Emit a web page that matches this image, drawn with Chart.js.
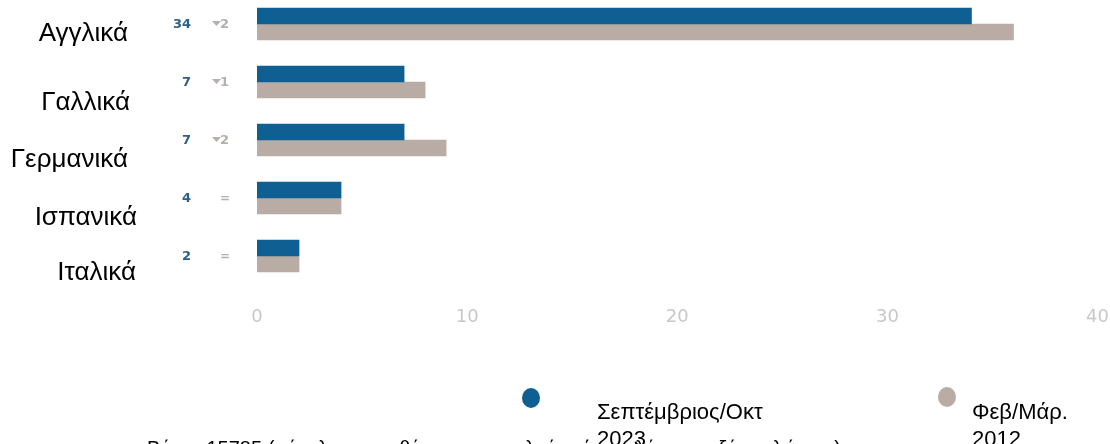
<!DOCTYPE html>
<html>
<head>
<meta charset="utf-8">
<script src="https://cdn.jsdelivr.net/npm/chart.js@4.4.0/dist/chart.umd.min.js"></script>
<style>
  html, body { margin: 0; padding: 0; background: #ffffff; overflow: hidden; }
  #wrap { position: absolute; left: 0; top: -5px; width: 1131px; height: 449px; }
</style>
</head>
<body>
<div id="wrap"><canvas id="chart"></canvas></div>
<script>
// Languages spoken, two survey waves
const categories = ['Αγγλικά', 'Γαλλικά', 'Γερμανικά', 'Ισπανικά', 'Ιταλικά'];
const series2023 = [34, 7, 7, 4, 2];
const series2012 = [36, 8, 9, 4, 2];
const seriesLabels = [['Σεπτέμβριος/Οκτ', '2023'], ['Φεβ/Μάρ.', '2012']];
const xTicks = [0, 10, 20, 30, 40];
const baseNote = 'Βάση: 15785 (σύνολο ερωτηθέντων που μιλούν μία τουλάχιστον ξένη γλώσσα)';

// Styling
const BLUE = '#0f5f92';
const GREY = '#b9aca5';
const labelRight = [128, 130, 128, 137, 136];   // right edge of each category label
const labelDy = [17, 28, 27, 27, 24];           // baseline offset from the bar pair centre
const legendPos = [
  { cx: 531, cy: 403, tx: 597 },
  { cx: 947, cy: 402, tx: 972 }
];

const overlay = {
  id: 'overlay',
  afterDraw(chart) {
    const ctx = chart.ctx;
    const y = chart.scales.y;
    ctx.save();

    // Category labels
    ctx.font = '26px "Liberation Sans", Arial, sans-serif';
    ctx.fillStyle = '#000000';
    ctx.textAlign = 'right';
    ctx.textBaseline = 'alphabetic';
    categories.forEach((c, i) => {
      ctx.fillText(c, labelRight[i], y.getPixelForValue(i) + labelDy[i]);
    });

    // Current value and change since the earlier wave
    categories.forEach((c, i) => {
      const cy = y.getPixelForValue(i);
      ctx.font = 'bold 13px "DejaVu Sans", Verdana, sans-serif';
      ctx.textBaseline = 'middle';
      ctx.textAlign = 'right';
      ctx.fillStyle = '#2c6088';
      ctx.fillText(String(series2023[i]), 191, cy + 1);

      const d = series2012[i] - series2023[i];
      ctx.fillStyle = '#b6afab';
      if (d === 0) {
        ctx.textAlign = 'center';
        ctx.font = 'bold 12px "DejaVu Sans", Verdana, sans-serif';
        ctx.fillText('=', 225, cy + 1);
      } else {
        ctx.beginPath();
        ctx.moveTo(212, cy - 3);
        ctx.lineTo(221, cy - 3);
        ctx.lineTo(216.5, cy + 2);
        ctx.closePath();
        ctx.fill();
        ctx.textAlign = 'left';
        ctx.fillText(String(Math.abs(d)), 220, cy + 1);
      }
    });

    // Legend
    chart.data.datasets.forEach((ds, i) => {
      const p = legendPos[i];
      ctx.fillStyle = ds.backgroundColor;
      ctx.beginPath();
      ctx.ellipse(p.cx, p.cy, 9, 10, 0, 0, Math.PI * 2);
      ctx.fill();
      ctx.fillStyle = '#000000';
      ctx.font = '22px "Liberation Sans", Arial, sans-serif';
      ctx.textAlign = 'left';
      ctx.textBaseline = 'alphabetic';
      seriesLabels[i].forEach((line, k) => {
        ctx.fillText(line, p.tx, 424 + k * 27);
      });
    });

    // Base note
    ctx.font = '20px "Liberation Sans", Arial, sans-serif';
    ctx.fillStyle = '#000000';
    ctx.textAlign = 'left';
    ctx.fillText(baseNote, 147, 460);

    ctx.restore();
  }
};

new Chart(document.getElementById('chart'), {
  type: 'bar',
  data: {
    labels: categories,
    datasets: [
      { label: seriesLabels[0].join(' '), data: series2023, backgroundColor: BLUE, barThickness: 16 },
      { label: seriesLabels[1].join(' '), data: series2012, backgroundColor: GREY, barThickness: 16 }
    ]
  },
  options: {
    indexAxis: 'y',
    responsive: true,
    maintainAspectRatio: false,
    animation: false,
    layout: { padding: { left: 257, right: 0, top: 0, bottom: 115 } },
    plugins: { legend: { display: false }, tooltip: { enabled: false } },
    scales: {
      x: {
        min: xTicks[0],
        max: xTicks[xTicks.length - 1],
        afterBuildTicks(scale) { scale.ticks = xTicks.map(v => ({ value: v })); },
        afterFit(scale) { scale.height = 44; },
        grid: { display: false, drawTicks: false },
        border: { display: false },
        ticks: {
          color: '#c8c8c8',
          padding: 22,
          font: { family: '"DejaVu Sans", Verdana, sans-serif', size: 18 }
        }
      },
      y: { display: false }
    }
  },
  plugins: [overlay]
});
</script>
</body>
</html>
